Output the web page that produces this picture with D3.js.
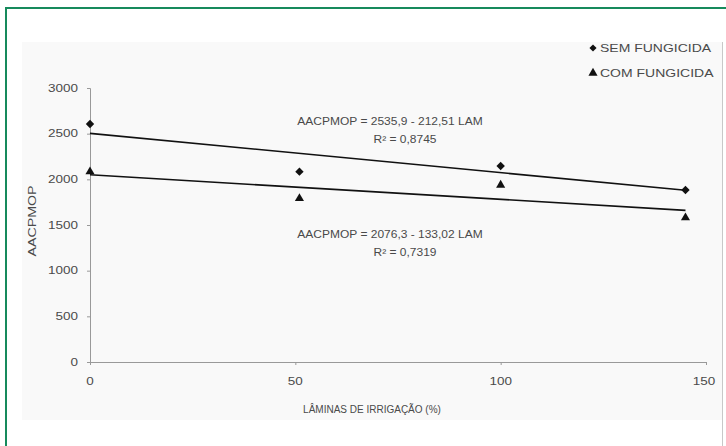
<!DOCTYPE html>
<html><head><meta charset="utf-8">
<script src="https://cdn.jsdelivr.net/npm/d3@7/dist/d3.min.js"></script>
<style>body{margin:0;background:#fff}svg{display:block}text{font-family:"Liberation Sans",Arial,sans-serif;fill:#4a4a4a}</style>
</head><body><svg id="c" width="726" height="446"></svg>
<script>
const laminas = [0, 51, 100, 145];
const semFungicida = [2606, 2084, 2146, 1883];
const comFungicida = [2084, 1791, 1938, 1580];
const trendX = [0, 145];
const trendSem = [2503, 1880];
const trendCom = [2050, 1660];
const yTicks = [0, 500, 1000, 1500, 2000, 2500, 3000];
const xTicks = [0, 50, 100, 150];
const seriesNames = ["SEM FUNGICIDA", "COM FUNGICIDA"];
const eqSem = ["AACPMOP = 2535,9 - 212,51 LAM", "R² = 0,8745"];
const eqCom = ["AACPMOP = 2076,3 - 133,02 LAM", "R² = 0,7319"];

const svg = d3.select("#c");
const green = "#168a5c";
// frame
svg.append("rect").attr("x",6).attr("y",8).attr("width",730).attr("height",450)
  .attr("fill","#fff").attr("stroke",green).attr("stroke-width",2);
// chart area
svg.append("rect").attr("x",22).attr("y",42).attr("width",700).attr("height",378).attr("fill","#f9f9f9");
svg.append("line").attr("x1",722.5).attr("x2",722.5).attr("y1",42).attr("y2",446).attr("stroke","#c8c8c8");

const x = d3.scaleLinear().domain([0,150]).range([90,706]);
const y = d3.scaleLinear().domain([0,3000]).range([362,88]);

function txt(g, s, px, py, anchor, size, sx){
  return g.append("text").attr("transform",`translate(${px},${py}) scale(${sx||1.35},1)`)
    .attr("text-anchor",anchor||"start").attr("font-size",size||10).text(s);
}

// axes
const ya = svg.append("g").attr("transform","translate(90,0)")
  .call(d3.axisLeft(y).tickValues(yTicks).tickSize(3).tickFormat(""));
const xa = svg.append("g").attr("transform","translate(0,362)")
  .call(d3.axisBottom(x).tickValues(xTicks).tickSize(3).tickFormat(""));
[ya,xa].forEach(a=>{a.select(".domain").attr("stroke","#999");a.selectAll(".tick line").attr("stroke","#999");});
yTicks.forEach(v=>txt(svg, String(v), 78, y(v)+3.5, "end"));
xTicks.forEach(v=>txt(svg, String(v), x(v)+(v===150?-2:0), 385, "middle"));

txt(svg, "LÂMINAS DE IRRIGAÇÃO (%)", 372, 413, "middle", 10, 1.0);
svg.append("text").attr("transform",`translate(36,221) rotate(-90) scale(1.42,1)`)
  .attr("text-anchor","middle").attr("font-size",10).text("AACPMOP");

// trend lines
const line = d3.line().x(d=>x(d[0])).y(d=>y(d[1]));
[trendSem, trendCom].forEach(t=>{
  svg.append("path").attr("d", line(trendX.map((v,i)=>[v,t[i]])))
    .attr("fill","none").attr("stroke","#111").attr("stroke-width",1.6);
});

// points
const diamond = "M0,-4.2L4.2,0L0,4.2L-4.2,0Z";
const tri = d3.symbol().type(d3.symbolTriangle).size(36);
svg.append("g").selectAll("path").data(laminas.map((v,i)=>[v,semFungicida[i]])).join("path")
  .attr("d",diamond).attr("transform",d=>`translate(${x(d[0])},${y(d[1])})`).attr("fill","#111");
svg.append("g").selectAll("path").data(laminas.map((v,i)=>[v,comFungicida[i]])).join("path")
  .attr("d",tri).attr("transform",d=>`translate(${x(d[0])},${y(d[1])})`).attr("fill","#111");

// equations
txt(svg, eqSem[0], 390, 125, "middle", 10, 1.2);
txt(svg, eqSem[1], 405, 143, "middle", 10, 1.2);
txt(svg, eqCom[0], 390, 238, "middle", 10, 1.2);
txt(svg, eqCom[1], 405, 256, "middle", 10, 1.2);

// legend
svg.append("path").attr("d",diamond).attr("transform","translate(593,48) scale(0.85)").attr("fill","#111");
svg.append("path").attr("d",tri).attr("transform","translate(593,73)").attr("fill","#111");
txt(svg, seriesNames[0], 600, 51.5, "start", 10, 1.4);
txt(svg, seriesNames[1], 600, 76.5, "start", 10, 1.4);
</script></body></html>
